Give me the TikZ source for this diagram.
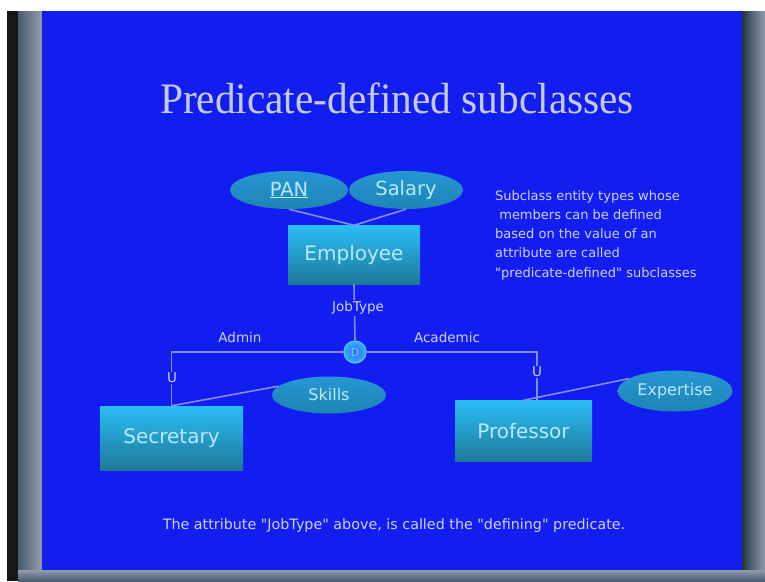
\documentclass[tikz,border=0pt]{standalone}
\usepackage{fontspec}
\setmainfont{Liberation Serif}
\newfontfamily\slidesans{DejaVu Sans}
\usetikzlibrary{shapes.geometric}

\definecolor{slideblue}{RGB}{18,30,240}
\definecolor{titlecol}{RGB}{196,202,240}
\definecolor{linecol}{RGB}{132,140,255}
\definecolor{labelcol}{RGB}{204,210,252}
\definecolor{boxtop}{RGB}{42,190,248}
\definecolor{boxbot}{RGB}{30,120,150}
\definecolor{boxtext}{RGB}{184,234,255}
\definecolor{elltop}{RGB}{38,150,212}
\definecolor{ellmid}{RGB}{56,204,248}
\definecolor{ellbot}{RGB}{30,132,180}
\definecolor{bezeldark}{RGB}{22,24,24}
\definecolor{bezelmid}{RGB}{72,92,112}
\definecolor{bezellight}{RGB}{146,156,170}

\tikzset{
  entity/.style={rectangle, inner sep=0pt, top color=boxtop, bottom color=boxbot,
    text=boxtext, font=\slidesans\fontsize{20}{24}\selectfont},
  attr/.style={ellipse, inner sep=0pt, top color=elltop, middle color=ellmid,
    bottom color=ellbot, text=boxtext},
  bigattr/.style={attr, font=\slidesans\fontsize{19.5}{23}\selectfont},
  smallattr/.style={attr, font=\slidesans\fontsize{16}{19}\selectfont},
  link/.style={draw=linecol, line width=1.6pt},
  lbl/.style={text=labelcol, inner sep=1pt, font=\slidesans\fontsize{13.5}{16}\selectfont},
  note/.style={text=labelcol, font=\slidesans\fontsize{13}{19.3}\selectfont},
  footnote/.style={text=labelcol, font=\slidesans\fontsize{14.3}{16}\selectfont},
  disjoint/.style={circle, minimum size=22pt, inner sep=0pt,
    inner color={rgb,255:red,40;green,118;blue,246},
    outer color={rgb,255:red,52;green,170;blue,252},
    draw={rgb,255:red,84;green,190;blue,255}, line width=1.4pt,
    text={rgb,255:red,130;green,196;blue,255},
    font=\slidesans\fontsize{11}{13}\selectfont},
}

\begin{document}
\begin{tikzpicture}[x=1pt,y=-1pt]
  \useasboundingbox (0,0) rectangle (765,581);

  % screen frame around the projected slide
  \fill[white] (0,0) rectangle (765,581);
  \fill[bezeldark] (7,11) rectangle (18,581);
  \shade[left color=bezelmid, right color=bezellight] (18,11) rectangle (42,581);
  \shade[left color=bezeldark!70!bezelmid, right color=bezelmid] (741,11) rectangle (750,581);
  \shade[left color=bezelmid, right color=bezellight] (750,11) rectangle (765,581);
  \shade[top color=bezellight, bottom color=bezelmid] (18,570) rectangle (765,581);

  % slide
  \fill[slideblue] (42,11) rectangle (742,570);

  % title
  \node[anchor=base, text=titlecol, inner sep=0pt] (title) at (397,113)
    {\scalebox{0.95}[1]{\fontsize{43.5}{48}\selectfont Predicate-defined subclasses}};

  % entities
  \node[entity, minimum width=132pt, minimum height=59pt] (emp) at (354,255) {Employee};
  \node[entity, minimum width=143pt, minimum height=64pt] (sec) at (171.5,438) {Secretary};
  \node[entity, minimum width=137pt, minimum height=61pt] (prof) at (523.5,431) {Professor};

  % attributes
  \node[bigattr, minimum width=118pt, minimum height=38pt] (pan) at (289,190) {\underline{PAN}};
  \node[bigattr, minimum width=114pt, minimum height=38pt] (sal) at (406,190) {Salary};
  \node[smallattr, minimum width=114pt, minimum height=37pt] (skills) at (329,395) {Skills};
  \node[smallattr, minimum width=115pt, minimum height=41pt] (exp) at (675,391) {Expertise};

  % disjointness circle
  \node[disjoint] (d) at (355,352) {D};
  \coordinate (pdrop) at ([xshift=13.5pt]prof.north);

  % connectors
  \draw[link] (pan.south) -- (emp.north);
  \draw[link] (sal.south) -- (emp.north);
  \draw[link] (emp.south) -- (d.north);
  \draw[link] (d.west) -| (sec.north);
  \draw[link] (d.east) -| (pdrop);
  \draw[link] (sec.north) -- (skills.170);
  \draw[link] (prof.north) -- (exp.165);

  % connector labels
  \node[lbl, fill=slideblue] (jt) at (358,308) {JobType};
  \node[lbl] (admin) at (240,337) {Admin};
  \node[lbl] (acad) at (447,337) {Academic};
  \node[lbl, fill=slideblue] (uleft) at (172,378) {U};
  \node[lbl, fill=slideblue] (uright) at (537,372) {U};

  % side note
  \node[note, anchor=north west, align=left, inner sep=0pt] (side) at (495,190)
    {Subclass entity types whose\\
     \ members can be defined\\
     based on the value of an\\
     attribute are called\\
     "predicate-defined" subclasses};

  % footer
  \node[footnote, inner sep=0pt] (foot) at (394,526)
    {The attribute "JobType" above, is called the "defining" predicate.};
\end{tikzpicture}
\end{document}
